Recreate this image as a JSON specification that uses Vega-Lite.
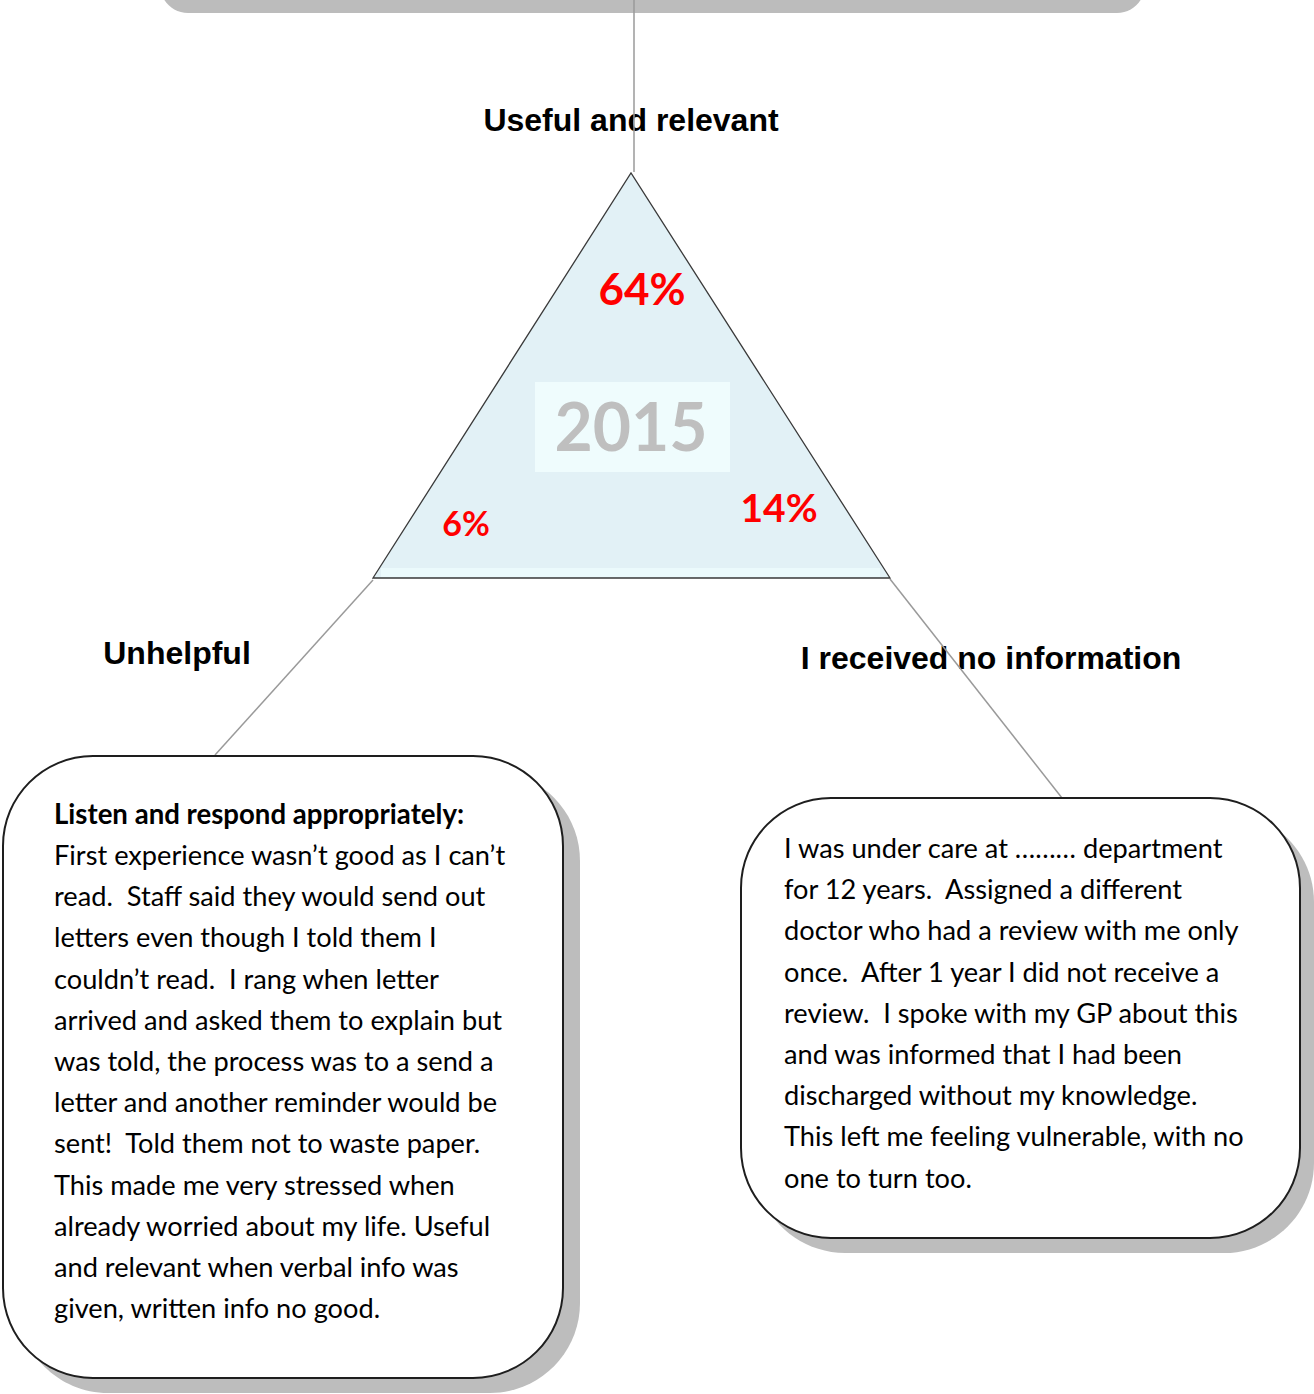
{
  "$schema": "https://vega.github.io/schema/vega-lite/v6.json",
  "width": 1314,
  "height": 1394,
  "padding": 0,
  "autosize": {"type": "none"},
  "background": "white",
  "config": {"view": {"stroke": null}},
  "encoding": {
    "x": {"field": "x", "type": "quantitative", "scale": {"domain": [0, 1314], "nice": false, "zero": false}, "axis": null},
    "y": {"field": "y", "type": "quantitative", "scale": {"domain": [0, 1394], "nice": false, "zero": false, "reverse": true}, "axis": null}
  },
  "layer": [
    {
      "data": {"values": [{"x": 160, "x2": 1145, "y": -60, "y2": 13}]},
      "mark": {"type": "rect", "fill": "#bcbcbc", "cornerRadius": 28, "clip": true},
      "encoding": {"x2": {"field": "x2"}, "y2": {"field": "y2"}}
    },
    {
      "data": {"values": [
        {"x": 373, "y": 578, "y2": 578},
        {"x": 631, "y": 173, "y2": 578},
        {"x": 890, "y": 578, "y2": 578}
      ]},
      "mark": {"type": "area", "orient": "vertical", "fill": "#e2f1f6", "fillOpacity": 1, "stroke": "#3a3a3a", "strokeWidth": 1.3},
      "encoding": {"y2": {"field": "y2"}}
    },
    {
      "data": {"values": [{"x": 381, "x2": 880, "y": 568, "y2": 577}]},
      "mark": {"type": "rect", "fill": "#ebfafc"},
      "encoding": {"x2": {"field": "x2"}, "y2": {"field": "y2"}}
    },
    {
      "data": {"values": [{"x": 535, "x2": 730, "y": 382, "y2": 472}]},
      "mark": {"type": "rect", "fill": "#effcfd"},
      "encoding": {"x2": {"field": "x2"}, "y2": {"field": "y2"}}
    },
    {
      "data": {"values": [{"x": 631, "y": 431, "label": "2015"}]},
      "mark": {"type": "text", "font": "Lato", "fontWeight": "bold", "fontSize": 66, "fill": "#bfbfbf", "align": "center", "baseline": "middle"},
      "encoding": {"text": {"field": "label"}}
    },
    {
      "data": {"values": [{"x": 642, "y": 292, "label": "64%"}]},
      "mark": {"type": "text", "font": "Lato", "fontWeight": "bold", "fontSize": 44, "fill": "#ff0000", "align": "center", "baseline": "middle"},
      "encoding": {"text": {"field": "label"}}
    },
    {
      "data": {"values": [{"x": 779, "y": 510, "label": "14%"}]},
      "mark": {"type": "text", "font": "Lato", "fontWeight": "bold", "fontSize": 39, "fill": "#ff0000", "align": "center", "baseline": "middle"},
      "encoding": {"text": {"field": "label"}}
    },
    {
      "data": {"values": [{"x": 466, "y": 526, "label": "6%"}]},
      "mark": {"type": "text", "font": "Lato", "fontWeight": "bold", "fontSize": 34, "fill": "#ff0000", "align": "center", "baseline": "middle"},
      "encoding": {"text": {"field": "label"}}
    },
    {
      "data": {"values": [
        {"x": 631, "y": 121, "label": "Useful and relevant"},
        {"x": 177, "y": 654, "label": "Unhelpful"},
        {"x": 991, "y": 659, "label": "I received no information"}
      ]},
      "mark": {"type": "text", "font": "Liberation Sans", "fontWeight": "bold", "fontSize": 32, "fill": "#000000", "align": "center", "baseline": "middle"},
      "encoding": {"text": {"field": "label"}}
    },
    {
      "data": {"values": [
        {"x": 634, "y": 0, "x2": 634, "y2": 172},
        {"x": 373, "y": 580, "x2": 215, "y2": 755},
        {"x": 890, "y": 579, "x2": 1062, "y2": 798}
      ]},
      "mark": {"type": "rule", "stroke": "#9a9a9a", "strokeWidth": 1.5},
      "encoding": {"x2": {"field": "x2"}, "y2": {"field": "y2"}}
    },
    {
      "data": {"values": [
        {"x": 18, "x2": 580, "y": 771, "y2": 1393},
        {"x": 755, "x2": 1314, "y": 812, "y2": 1253}
      ]},
      "mark": {"type": "rect", "fill": "#bdbdbd", "cornerRadius": 90},
      "encoding": {"x2": {"field": "x2"}, "y2": {"field": "y2"}}
    },
    {
      "data": {"values": [
        {"x": 3, "x2": 563, "y": 756, "y2": 1378},
        {"x": 741, "x2": 1300, "y": 798, "y2": 1238}
      ]},
      "mark": {"type": "rect", "fill": "#ffffff", "stroke": "#1e1e1e", "strokeWidth": 2, "cornerRadius": 90},
      "encoding": {"x2": {"field": "x2"}, "y2": {"field": "y2"}}
    },
    {
      "data": {"values": [{"x": 54, "y": 824, "label": "Listen and respond appropriately:"}]},
      "mark": {"type": "text", "font": "Lato", "fontWeight": "bold", "fontSize": 27.6, "fill": "#000000", "align": "left", "baseline": "alphabetic"},
      "encoding": {"text": {"field": "label"}}
    },
    {
      "data": {"values": [
        {"x": 54, "y": 865, "label": "First experience wasn’t good as I can’t\nread.\u00a0 Staff said they would send out\nletters even though I told them I\ncouldn’t read.\u00a0 I rang when letter\narrived and asked them to explain but\nwas told, the process was to a send a\nletter and another reminder would be\nsent!\u00a0 Told them not to waste paper.\nThis made me very stressed when\nalready worried about my life. Useful\nand relevant when verbal info was\ngiven, written info no good."},
        {"x": 784, "y": 858, "label": "I was under care at ……… department\nfor 12 years.\u00a0 Assigned a different\ndoctor who had a review with me only\nonce.\u00a0 After 1 year I did not receive a\nreview.\u00a0 I spoke with my GP about this\nand was informed that I had been\ndischarged without my knowledge.\nThis left me feeling vulnerable, with no\none to turn too."}
      ]},
      "mark": {"type": "text", "font": "Lato", "fontSize": 27.2, "fill": "#000000", "align": "left", "baseline": "alphabetic", "lineBreak": "\n", "lineHeight": 41.2},
      "encoding": {"text": {"field": "label"}}
    }
  ]
}
